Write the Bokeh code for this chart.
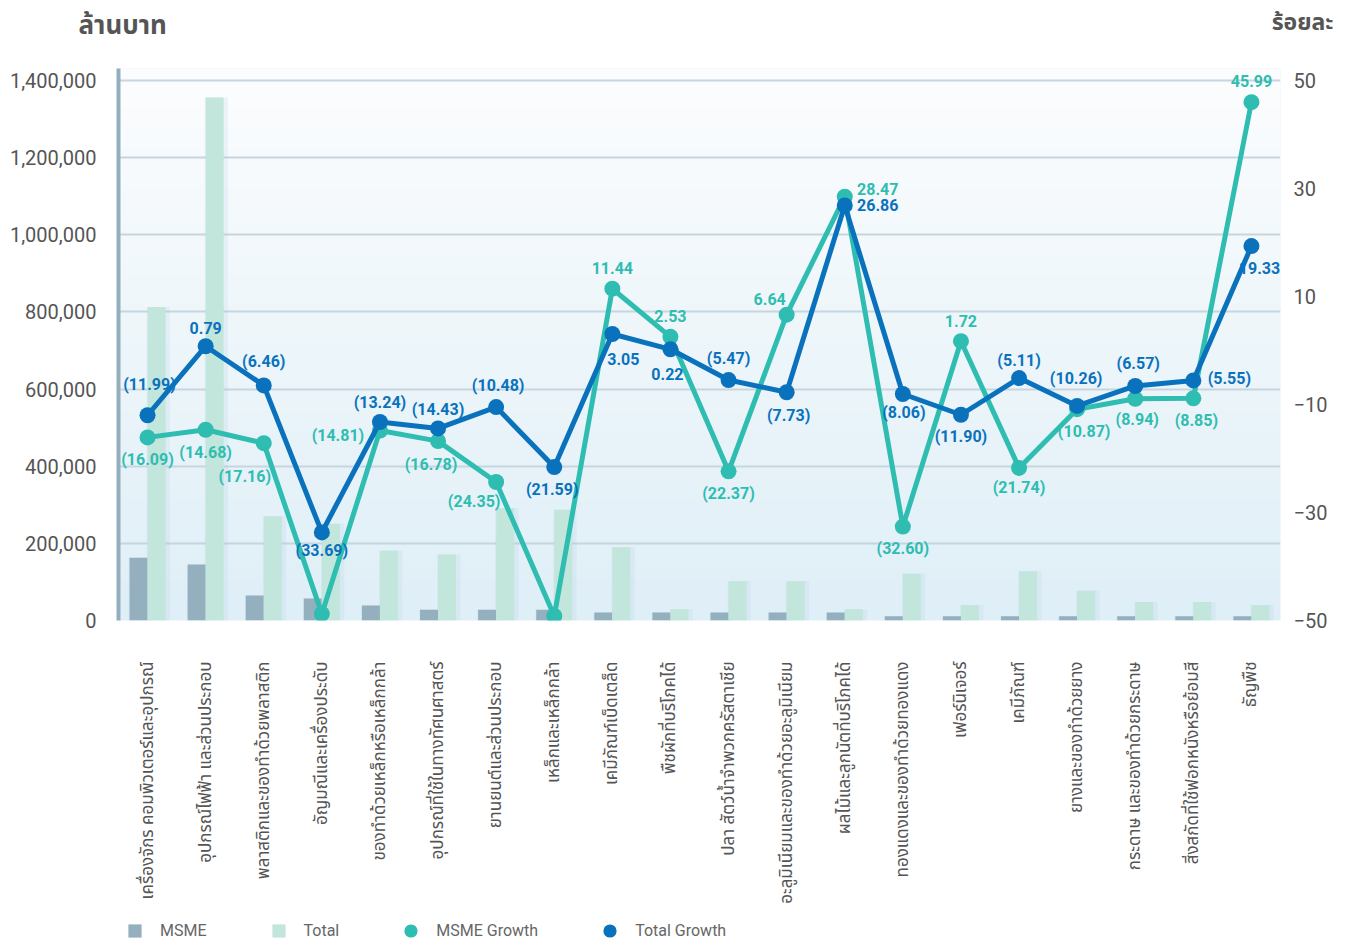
import numpy as np
from math import pi
from bokeh.plotting import figure
from bokeh.layouts import column
from bokeh.models import (ColumnDataSource, FactorRange, Range1d, LinearAxis, FixedTicker,
                          NumeralTickFormatter, Legend, LegendItem, Label)
from bokeh.transform import dodge
from bokeh.core.properties import value
from bokeh.embed import file_html
from bokeh.resources import INLINE

# ---------------- data ----------------
categories = [
    "เครื่องจักร คอมพิวเตอร์และอุปกรณ์",
    "อุปกรณ์ไฟฟ้า และส่วนประกอบ",
    "พลาสติกและของทำด้วยพลาสติก",
    "อัญมณีและเครื่องประดับ",
    "ของทำด้วยเหล็กหรือเหล็กกล้า",
    "อุปกรณ์ที่ใช้ในทางทัศนศาสตร์",
    "ยานยนต์และส่วนประกอบ",
    "เหล็กและเหล็กกล้า",
    "เคมีภัณฑ์เบ็ดเตล็ด",
    "พืชผักที่บริโภคได้",
    "ปลา สัตว์น้ำจำพวกครัสตาเชีย",
    "อะลูมิเนียมและของทำด้วยอะลูมิเนียม",
    "ผลไม้และลูกนัตที่บริโภคได้",
    "ทองแดงและของทำด้วยทองแดง",
    "เฟอร์นิเจอร์",
    "เคมีภัณฑ์",
    "ยางและของทำด้วยยาง",
    "กระดาษ และของทำด้วยกระดาษ",
    "สิ่งสกัดที่ใช้ฟอกหนังหรือย้อมสี",
    "ธัญพืช",
]
msme_value = [163000, 145000, 65000, 57000, 39000, 28000, 28000, 28000, 21000, 21000,
              21000, 21000, 21000, 11000, 11000, 11000, 11000, 11000, 11000, 11000]
total_value = [813000, 1356000, 270000, 251000, 181000, 171000, 291000, 287000, 190000, 29000,
               102000, 102000, 29000, 121000, 40000, 128000, 77000, 48000, 48000, 40000]
msme_growth = [-16.09, -14.68, -17.16, -48.78, -14.81, -16.78, -24.35, -49.17, 11.44, 2.53,
               -22.37, 6.64, 28.47, -32.60, 1.72, -21.74, -10.87, -8.94, -8.85, 45.99]
total_growth = [-11.99, 0.79, -6.46, -33.69, -13.24, -14.43, -10.48, -21.59, 3.05, 0.22,
                -5.47, -7.73, 26.86, -8.06, -11.90, -5.11, -10.26, -6.57, -5.55, 19.33]
left_ticks = [0, 200000, 400000, 600000, 800000, 1000000, 1200000, 1400000]
right_ticks = [-50, -30, -10, 10, 30, 50]
left_title = "ล้านบาท"
right_title = "ร้อยละ"
legend_labels = ["MSME", "Total", "MSME Growth", "Total Growth"]

# ---------------- label layout (pixel offsets) ----------------
msme_dx = [0, 0, -19, 0, -42, -7, -22, 0, 0, 0, 0, -17, 33, 0, 0, 0, 7, 2, 3, 0]
msme_dy = [22, 23, 33, 23, 5, 23, 20, 21, -21, -21, 22, -16, -8, 22, -20, 20, 22, 21, 22, -21]
total_dx = [2, 0, 0, 0, 0, 0, 2, -2, 11, -3, 0, 2, 33, 1, 0, 0, -1, 3, 36, 8]
total_dy = [-31, -18, -24, 18, -19, -19, -22, 22, 25, 25, -22, 23, 0, 18, 22, -18, -27, -22, -2, 22]


def fmt(v):
    return f"({abs(v):.2f})" if v < 0 else f"{v:.2f}"


src = ColumnDataSource(dict(
    cat=categories, msme=msme_value, total=total_value,
    mg=msme_growth, tg=total_growth,
    mg_text=[fmt(v) for v in msme_growth], tg_text=[fmt(v) for v in total_growth],
    mdx=msme_dx, mdy=msme_dy, tdx=total_dx, tdy=total_dy,
))

C_MSME = "#94afbe"
C_TOTAL = "#c2e5dc"
C_MG = "#2fbdb1"
C_TG = "#0a72bd"
C_TEXT = "#555555"
THAI = "Noto Sans Thai, Noto Sans, sans-serif"
W = 1345
FRAME_L, FRAME_R = 118, 1280

# ---------------- header with unit titles ----------------
HEAD_H = 68
head = figure(width=W, height=HEAD_H, output_backend="svg", toolbar_location=None, min_border=0)
if "frame_align" in head.properties():
    head.frame_align = False
    head.x_range = Range1d(0, W)
    lx, rx = 78, 1333
else:
    head.frame_width = W
    head.frame_height = HEAD_H
    head.x_range = Range1d(0, W)
    lx, rx = 78, 1333
head.y_range = Range1d(0, HEAD_H)
head.xaxis.visible = False
head.yaxis.visible = False
head.grid.visible = False
head.outline_line_color = None
head.background_fill_color = "white"
head.add_layout(Label(x=lx, y=HEAD_H - 25, text=left_title, text_font=THAI, text_font_size="26px",
                      text_font_style="bold", text_color=C_TEXT, text_baseline="middle",
                      text_align="left"))
head.add_layout(Label(x=rx, y=HEAD_H - 22, text=right_title, text_font=THAI, text_font_size="23px",
                      text_font_style="bold", text_color=C_TEXT, text_baseline="middle",
                      text_align="right"))

# ---------------- main chart ----------------
Y_END = 1431111
p_main = figure(x_range=FactorRange(*categories), y_range=Range1d(0, Y_END),
                width=W, height=552 + 286, output_backend="svg", toolbar_location=None,
                min_border_left=FRAME_L, min_border_right=W - FRAME_R,
                min_border_top=0, min_border_bottom=286)
p_main.extra_y_ranges = {"pct": Range1d(-50, 52.22)}
p_main.outline_line_color = None
p_main.background_fill_color = "#eef6fa"
p_main.border_fill_color = "white"

# background gradient in plot area
n = 256
t = np.linspace(0, 1, n)[:, None]
bot = np.array([0xdf, 0xef, 0xf7], dtype=float)
top = np.array([0xfc, 0xfd, 0xfe], dtype=float)
rgb = bot * (1 - t) + top * t
img = np.empty((n, 1), dtype=np.uint32)
view = img.view(dtype=np.uint8).reshape((n, 1, 4))
view[:, :, 0] = rgb[:, 0:1].astype(np.uint8)
view[:, :, 1] = rgb[:, 1:2].astype(np.uint8)
view[:, :, 2] = rgb[:, 2:3].astype(np.uint8)
view[:, :, 3] = 255
p_main.image_rgba(image=[img], x=0, y=0, dw=len(categories), dh=Y_END, level="image")

# grid
p_main.xgrid.grid_line_color = None
p_main.ygrid.ticker = FixedTicker(ticks=left_ticks)
p_main.ygrid.grid_line_color = "#c6d5df"
p_main.ygrid.grid_line_width = 2

# axes
p_main.yaxis.ticker = FixedTicker(ticks=left_ticks)
p_main.yaxis.formatter = NumeralTickFormatter(format="0,0")
p_main.yaxis.axis_line_color = "#94aebd"
p_main.yaxis.axis_line_width = 4
p_main.yaxis.major_tick_line_color = None
p_main.yaxis.minor_tick_line_color = None
p_main.yaxis.major_label_standoff = 16
p_main.yaxis.major_label_text_font = "Roboto"
p_main.yaxis.major_label_text_font_size = "20px"
p_main.yaxis.major_label_text_color = C_TEXT

ra = LinearAxis(y_range_name="pct", ticker=FixedTicker(ticks=right_ticks))
ra.axis_line_color = None
ra.major_tick_line_color = None
ra.minor_tick_line_color = None
ra.major_label_standoff = 7
ra.major_label_text_font = "Roboto"
ra.major_label_text_font_size = "20px"
ra.major_label_text_color = C_TEXT
p_main.add_layout(ra, "right")

p_main.xaxis.axis_line_color = None
p_main.xaxis.major_tick_line_color = None
p_main.xaxis.minor_tick_line_color = None
p_main.xaxis.major_label_orientation = pi / 2
p_main.xaxis.major_label_standoff = 35
p_main.xaxis.major_label_text_font = THAI
p_main.xaxis.major_label_text_font_size = "17px"
p_main.xaxis.major_label_text_color = C_TEXT

# bars (with soft shadow)
for off, col in ((-0.155, "msme"), (0.155, "total")):
    p_main.vbar(x=dodge("cat", off + 0.03, range=p_main.x_range), top=col, width=0.40, source=src,
                fill_color="#9cc0da", fill_alpha=0.14, line_color=None)
p_main.vbar(x=dodge("cat", -0.155, range=p_main.x_range), top="msme", width=0.31, source=src,
            fill_color=C_MSME, line_color=None)
p_main.vbar(x=dodge("cat", 0.155, range=p_main.x_range), top="total", width=0.31, source=src,
            fill_color=C_TOTAL, line_color=None)

# growth lines
p_main.line(x="cat", y="mg", source=src, y_range_name="pct", line_color=C_MG, line_width=5)
p_main.scatter(x="cat", y="mg", source=src, y_range_name="pct", size=16, fill_color=C_MG, line_color=None)
p_main.line(x="cat", y="tg", source=src, y_range_name="pct", line_color=C_TG, line_width=5)
p_main.scatter(x="cat", y="tg", source=src, y_range_name="pct", size=16, fill_color=C_TG, line_color=None)

# data labels
p_main.text(x="cat", y="mg", text="mg_text", source=src, y_range_name="pct",
            x_offset="mdx", y_offset="mdy", text_align="center", text_baseline="middle",
            text_font=value("Roboto"), text_font_size="16px", text_font_style="bold", text_color=C_MG)
p_main.text(x="cat", y="tg", text="tg_text", source=src, y_range_name="pct",
            x_offset="tdx", y_offset="tdy", text_align="center", text_baseline="middle",
            text_font=value("Roboto"), text_font_size="16px", text_font_style="bold", text_color=C_TG)

# ---------------- footer with legend (frame aligned with the chart's frame) ----------------
FOOT_H = 37
foot = figure(width=W, height=FOOT_H, x_range=Range1d(0, W), y_range=Range1d(0, FOOT_H),
              output_backend="svg", toolbar_location=None, min_border=0)
foot.xaxis.visible = False
foot.yaxis.visible = False
foot.grid.visible = False
foot.outline_line_color = None
foot.background_fill_color = "white"
proxy_src = ColumnDataSource(dict(x=[0], y=[0]))
lg = []
for mk, colr in (("square", C_MSME), ("square", C_TOTAL), ("circle", C_MG), ("circle", C_TG)):
    lg.append(foot.scatter(x="x", y="y", source=proxy_src, marker=mk, size=13,
                           fill_color=colr, line_color=None, visible=False))
legend = Legend(items=[LegendItem(label=lab, renderers=[r]) for lab, r in zip(legend_labels, lg)],
                orientation="horizontal", location=(0, -4),
                glyph_width=33, glyph_height=33, label_standoff=9, spacing=55,
                padding=0, margin=0, border_line_color=None, background_fill_alpha=0,
                label_text_font="Roboto", label_text_font_size="16px", label_text_color="#666666")
foot.add_layout(legend, "center")

p = column(head, p_main, foot, spacing=0)
open("out.html", "w").write(file_html(p, INLINE))
